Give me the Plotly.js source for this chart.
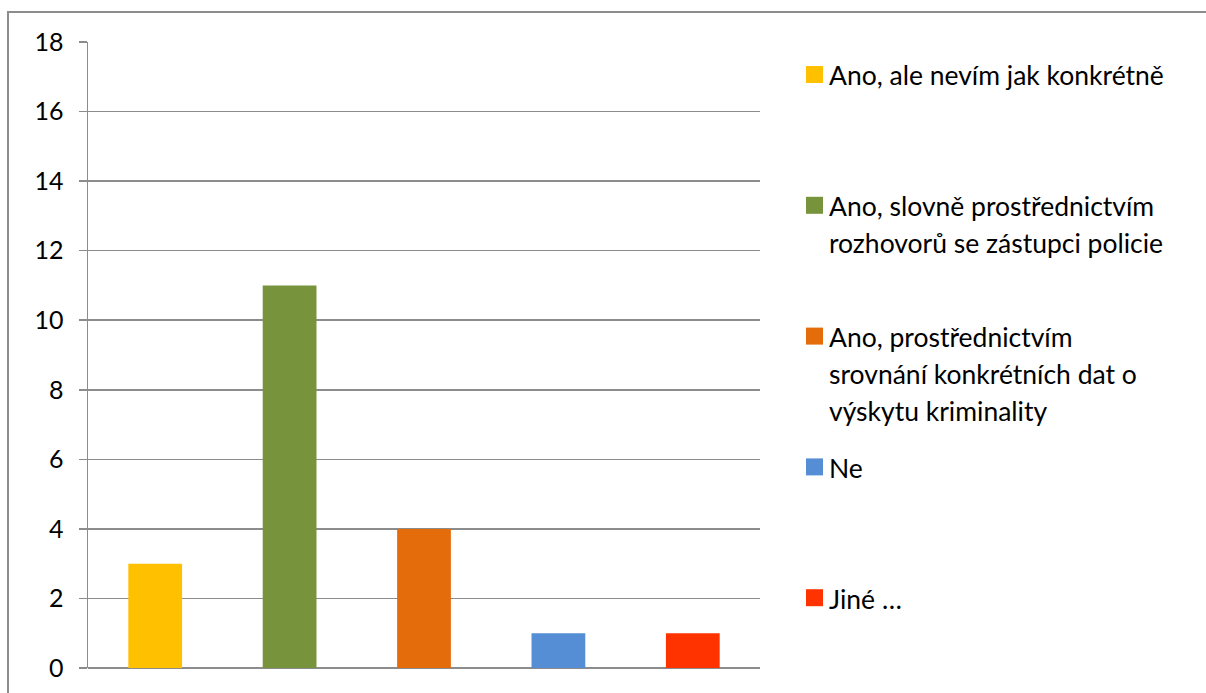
<!DOCTYPE html>
<html>
<head>
<meta charset="utf-8">
<script src="https://cdn.plot.ly/plotly-3.0.1.min.js"></script>
<style>html,body{margin:0;padding:0;background:#fff;}#chart{width:1206px;height:693px;}</style>
</head>
<body>
<div id="chart"></div>
<script>
// ---- data ----
const categories = [
  "Ano, ale nevím jak konkrétně",
  "Ano, slovně prostřednictvím rozhovorů se zástupci policie",
  "Ano, prostřednictvím srovnání konkrétních dat o výskytu kriminality",
  "Ne",
  "Jiné …"
];
const legendLines = [
  ["Ano, ale nevím jak konkrétně"],
  ["Ano, slovně prostřednictvím", "rozhovorů se zástupci policie"],
  ["Ano, prostřednictvím", "srovnání konkrétních dat o", "výskytu kriminality"],
  ["Ne"],
  ["Jiné …"]
];
const values = [3, 11, 4, 1, 1];
const colors = ["#FFC000", "#77933C", "#E46C0A", "#558ED5", "#FF3300"];
const yTicks = [0, 2, 4, 6, 8, 10, 12, 14, 16, 18];

// ---- geometry ----
const W = 1206, H = 693;
const L = 88, R = 760, T = 42, B = 668;
const pw = R - L, ph = B - T;
const px = x => (x - L) / pw;
const py = y => (B - y) / ph;

const FONT = "Lato, 'Liberation Sans', sans-serif";

const trace = {
  type: "bar",
  x: categories,
  y: values,
  marker: { color: colors },
  width: 0.4,
  showlegend: false,
  hoverinfo: "x+y"
};

const shapes = [];
const annotations = [];
// outer chart border
shapes.push({
  type: "rect", xref: "paper", yref: "paper",
  x0: px(8), x1: px(1212), y0: py(700), y1: py(12),
  line: { color: "#8c8c8c", width: 2 }, fillcolor: "rgba(0,0,0,0)", layer: "below"
});

// legend built from categories / colors
const firstY = 74.5, step = 130.8, lineGap = 36.8;
legendLines.forEach((lines, i) => {
  const cy = firstY + step * i;
  shapes.push({
    type: "rect", xref: "paper", yref: "paper",
    x0: px(806), x1: px(823), y0: py(cy + 8.5), y1: py(cy - 8.5),
    line: { width: 0 }, fillcolor: colors[i]
  });
  lines.forEach((t, j) => {
    annotations.push({
      xref: "paper", yref: "paper",
      x: px(827), y: py(cy + j * lineGap + 1),
      xanchor: "left", yanchor: "middle",
      text: t, showarrow: false,
      font: { family: FONT, size: 26.5, color: "#000" }
    });
  });
});

const layout = {
  width: W, height: H,
  margin: { l: L, r: W - R, t: T, b: H - B, pad: 0 },
  paper_bgcolor: "#fff", plot_bgcolor: "#fff",
  font: { family: FONT, size: 24, color: "#000" },
  xaxis: {
    showticklabels: false, showgrid: false, zeroline: false,
    showline: false, ticks: "", fixedrange: true
  },
  yaxis: {
    range: [0, 18], tickvals: yTicks, ticktext: yTicks.map(String),
    showgrid: true, gridcolor: "#8c8c8c", gridwidth: 1.5,
    zeroline: true, zerolinecolor: "#8c8c8c", zerolinewidth: 1.5,
    showline: true, linecolor: "#8c8c8c", linewidth: 1.5,
    ticks: "outside", ticklen: 8, tickcolor: "#8c8c8c", tickwidth: 1.5,
    ticklabelstandoff: 10,
    tickfont: { family: FONT, size: 25, color: "#000" },
    fixedrange: true
  },
  bargap: 0.6,
  shapes: shapes,
  annotations: annotations
};

Plotly.newPlot("chart", [trace], layout, { displayModeBar: false, staticPlot: true });
</script>
</body>
</html>
